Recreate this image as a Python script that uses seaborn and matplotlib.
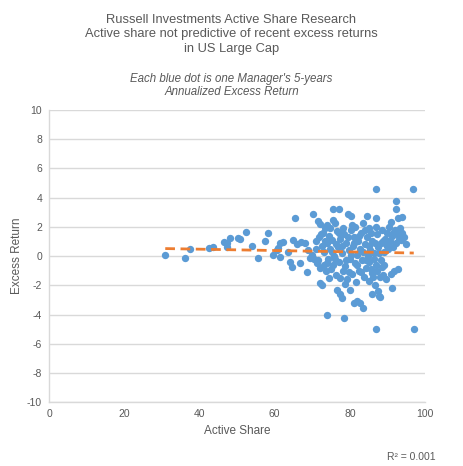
import numpy as np
import pandas as pd
import matplotlib
matplotlib.use("Agg")
import matplotlib.pyplot as plt
import seaborn as sns

# each manager: active share (%) and 5-year annualized excess return (%)
active_share = [
    30.9, 36.2, 37.5, 42.6, 43.7, 46.5, 47.3, 47.4, 48.0, 50.3, 50.8, 52.3, 53.9, 55.7, 57.4,
    58.3, 59.5, 60.6, 61.0, 61.4, 61.4, 62.3,
    63.5, 64.1, 64.5, 65.0, 65.4, 66.0, 66.8, 67.0, 68.1, 68.5, 69.0, 69.5, 70.0, 70.3, 70.5,
    71.0, 71.3, 71.6, 72.0, 72.1, 72.5, 71.8, 72.3, 72.0, 71.5,
    72.8, 73.0, 73.2, 73.5, 73.8, 73.9, 74.0, 74.2, 74.5, 74.7, 75.0, 75.3, 75.6, 75.6, 75.8,
    76.0, 76.2, 76.5, 76.5, 76.8, 77.0, 77.1, 77.3, 77.5, 77.8, 78.0, 78.2, 78.5, 78.5, 78.8,
    79.0, 79.2, 79.6, 79.8, 80.0, 80.2, 80.3, 80.5, 80.6, 80.8, 81.0, 81.2, 81.4, 81.6, 81.8,
    82.0, 82.2, 82.4, 82.7, 82.8, 83.0, 83.2, 83.6, 83.6, 83.8, 84.0, 84.2, 84.5, 84.6, 84.8,
    85.0, 85.2, 85.4, 85.8, 86.0, 86.2, 86.4, 86.7, 86.9, 86.9, 86.9, 87.0, 87.2, 87.4, 87.6,
    87.8, 88.0, 88.0, 88.2, 88.5, 88.6, 88.9, 89.0, 89.3, 89.6, 90.0, 90.3, 90.5, 90.9, 91.1,
    91.3, 91.5, 91.8, 92.0, 92.2, 92.2, 92.5, 92.7, 92.9, 93.0, 93.3, 93.8, 94.0, 94.5, 95.0,
    96.9, 97.0,
    73.3, 74.0, 74.8, 75.2, 76.0, 76.3, 77.0, 77.4, 77.9, 78.3, 79.0, 79.4, 79.8, 80.4, 81.0,
    81.5, 82.0, 82.5, 83.0, 83.4, 84.0, 84.4, 85.0, 85.5, 85.7, 86.3, 86.6, 87.0, 87.3, 87.8,
    88.3, 88.7, 89.2, 89.8, 90.2, 90.7, 91.0, 91.6, 92.3, 93.5, 71.0, 72.5, 73.6, 75.5, 78.8,
    80.0, 85.0, 86.0, 89.5, 74.4,
]
excess_return = [
    0.05, -0.11, 0.46, 0.57, 0.59, 0.98, 0.64, 0.87, 1.21, 1.26, 1.14, 1.67, 0.68, -0.16, 1.03,
    1.60, 0.07, 0.40, 0.52, -0.05, 0.87, 0.98,
    0.30, -0.39, -0.73, 1.10, 2.58, 0.85, -0.50, 0.95, 0.90, -1.07, 0.40, -0.10, 0.10, 2.88, -0.20,
    0.50, -0.50, 2.40, 2.20, -1.87, -1.99, 1.30, 1.50, -0.80, -0.30,
    1.60, 0.30, -0.60, 1.90, -4.04, 2.12, 0.90, -0.20, 1.40, 0.50, -0.90, 1.10, 3.20, 2.47, 0.00,
    2.24, -1.30, -2.33, 1.70, 0.60, 3.20, -0.40, 1.20, -2.60, -2.88, 0.20, -1.00, -4.27, 1.50, -0.70,
    0.90, -1.60, 2.85, 0.40, -0.20, 2.76, 1.80, 2.12, -1.20, 0.70, -3.20, 1.30, -0.50, -1.80, -3.10,
    0.10, 1.00, -1.00, -3.20, 0.50, 1.60, -0.30, 2.24, -3.58, -1.40, 0.80, -0.80, 2.76, 1.30, 0.00,
    -0.40, 1.90, 0.40, -1.19, 1.00, -1.42, 0.20, -2.00, 4.59, 2.62, -5.00, -0.60, 1.50, -2.40, 0.60,
    -2.70, -1.42, -2.80, 0.90, -0.73, 1.80, -1.30, 0.30, 1.20, 0.80, 0.70, 2.00, 1.00, -1.20, -2.20,
    1.40, 1.60, -1.00, 1.80, 3.79, 3.20, 1.50, -0.90, 2.58, 1.20, 1.90, 2.65, 1.60, 1.30, 0.80,
    4.59, -5.00,
    1.00, -0.50, 1.90, 0.30, -0.20, 0.80, 1.60, -1.50, 0.70, 1.90, -0.30, 1.30, -1.10, 0.10, 0.90,
    2.00, -0.60, 1.40, -1.10, 0.30, 1.80, -0.30, 0.70, -0.90, 1.60, -0.20, 0.90, 2.00, -1.00, 0.20,
    -0.30, 1.00, -0.60, 1.60, 0.50, 1.00, 2.30, 0.60, 0.90, 1.10, 1.00, 0.70, -1.00, -0.60, -1.90,
    -2.30, -1.70, -2.60, -1.60, -1.50,
]

x_ticks = [0, 20, 40, 60, 80, 100]
y_ticks = [-10, -8, -6, -4, -2, 0, 2, 4, 6, 8, 10]

df = pd.DataFrame({"Active Share": active_share, "Excess Return": excess_return})

sns.set_style("white")
plt.rcParams["font.family"] = ["Liberation Sans", "DejaVu Sans"]
plt.rcParams["axes.unicode_minus"] = False

text_gray = "#595959"
grid_gray = "#D9D9D9"

fig = plt.figure(figsize=(4.63, 4.66), dpi=100)
ax = fig.add_axes([0.106, 0.137, 0.812, 0.627])

ax.yaxis.grid(True, color=grid_gray, linewidth=1)
ax.set_axisbelow(True)

sns.scatterplot(data=df, x="Active Share", y="Excess Return", ax=ax,
                color="#5B9BD5", s=28, linewidth=0, alpha=1, zorder=3)
sns.regplot(data=df, x="Active Share", y="Excess Return", ax=ax, scatter=False,
            ci=None, truncate=True,
            line_kws={"color": "#ED7D31", "linestyle": (0, (3.5, 2)), "linewidth": 2, "zorder": 4})

ax.set_xlim(0, 100)
ax.set_ylim(-10, 10)
ax.set_xticks(x_ticks)
ax.set_yticks(y_ticks)
ax.tick_params(axis="both", length=0, labelsize=7.5, labelcolor=text_gray, pad=5)

for side in ["top", "right"]:
    ax.spines[side].set_visible(False)
for side in ["left", "bottom"]:
    ax.spines[side].set_color(grid_gray)
    ax.spines[side].set_linewidth(1)

ax.set_xlabel("Active Share", fontsize=8.5, color=text_gray, labelpad=4)
ax.set_ylabel("Excess Return", fontsize=8.5, color=text_gray, labelpad=3)

fig.text(0.5, 0.971, "Russell Investments Active Share Research\n"
         "Active share not predictive of recent excess returns\nin US Large Cap",
         ha="center", va="top", fontsize=9.3, color=text_gray, linespacing=1.3)
fig.text(0.5, 0.844, "Each blue dot is one Manager's 5-years\nAnnualized Excess Return",
         ha="center", va="top", fontsize=8.3, style="italic", color=text_gray, linespacing=1.1)
fig.text(0.94, 0.008, "R² = 0.001", ha="right", va="bottom", fontsize=7.5, color=text_gray)

fig.savefig("out.png", dpi=100)
